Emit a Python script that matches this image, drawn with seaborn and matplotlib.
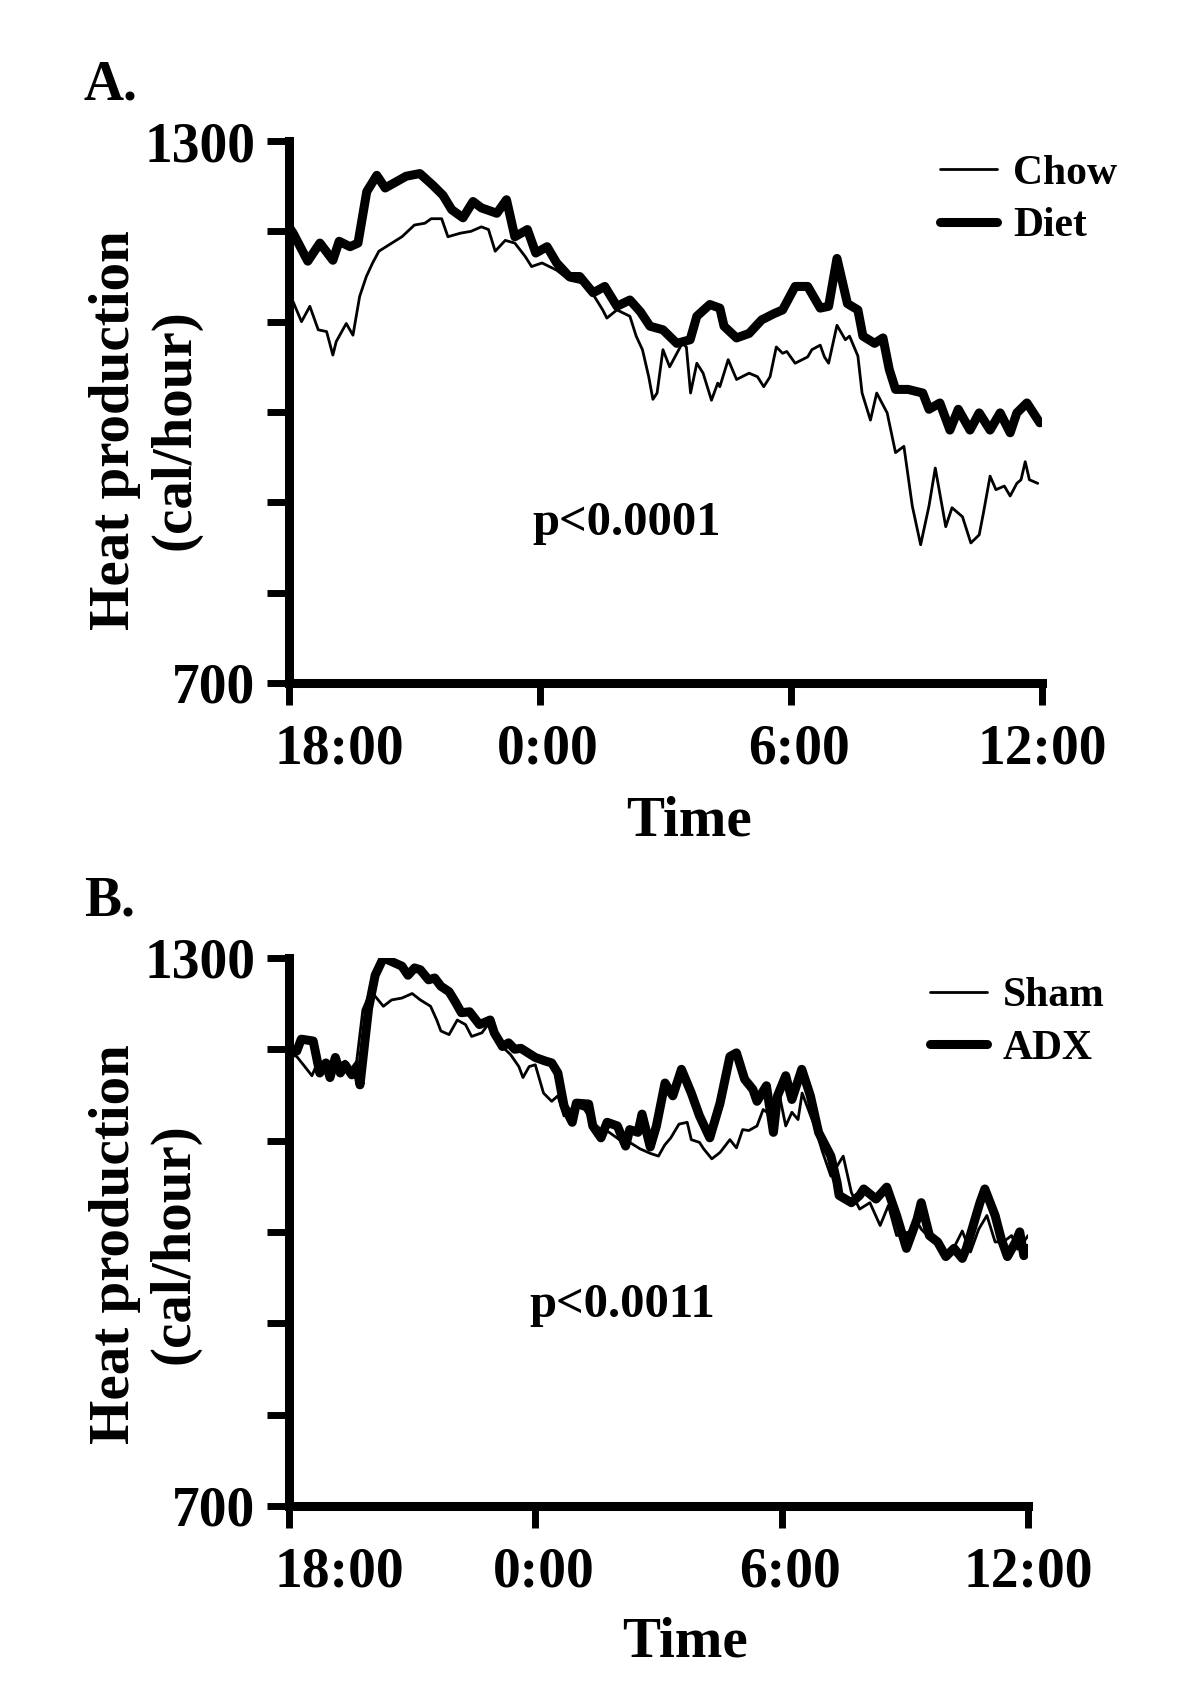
import matplotlib
matplotlib.use("Agg")
import matplotlib.pyplot as plt
import matplotlib.transforms as mtransforms
import seaborn as sns

# Panel A: hours after 18:00 and heat production (cal/hour)
chow_t = [0, 0.1, 0.3, 0.5, 0.7, 0.9, 1.05, 1.13, 1.37, 1.53,
          1.69, 1.85, 2.0, 2.15, 2.39, 2.7, 3.0, 3.25, 3.4, 3.65,
          3.8, 4.1, 4.35, 4.6, 4.77, 4.93, 5.17, 5.4, 5.65, 5.8,
          6.05, 6.4, 6.7, 7.0, 7.3, 7.5, 7.6, 7.84, 8.15, 8.3,
          8.45, 8.6, 8.7, 8.8, 8.94, 9.1, 9.4, 9.5, 9.6, 9.75,
          9.9, 10.1, 10.25, 10.3, 10.5, 10.7, 11.0, 11.2, 11.35, 11.5,
          11.65, 11.8, 11.9, 12.1, 12.4, 12.5, 12.7, 12.8, 12.9, 13.1,
          13.3, 13.4, 13.6, 13.7, 13.9, 14.05, 14.3, 14.5, 14.7, 14.9,
          15.1, 15.3, 15.45, 15.7, 15.85, 16.1, 16.3, 16.5, 16.6, 16.76,
          16.9, 17.1, 17.24, 17.4, 17.5, 17.6, 17.7, 17.9]
chow_v = [1125, 1122, 1100, 1117, 1091, 1089, 1063, 1078, 1098, 1085,
          1128, 1150, 1165, 1178, 1185, 1194, 1207, 1209, 1214, 1214,
          1194, 1198, 1200, 1205, 1202, 1178, 1190, 1187, 1172, 1161,
          1165, 1157, 1146, 1143, 1128, 1113, 1104, 1113, 1106, 1084,
          1069, 1039, 1014, 1021, 1069, 1050, 1076, 1072, 1021, 1054,
          1043, 1013, 1032, 1028, 1058, 1036, 1043, 1039, 1028, 1039,
          1072, 1065, 1067, 1054, 1061, 1069, 1074, 1061, 1054, 1096,
          1080, 1084, 1062, 1021, 991, 1021, 999, 955, 962, 896,
          853, 896, 938, 873, 894, 884, 855, 864, 888, 929,
          914, 918, 907, 921, 925, 945, 925, 921]
diet_t = [0, 0.1, 0.45, 0.74, 1.05, 1.2, 1.46, 1.65, 1.86, 2.1,
          2.3, 2.57, 2.8, 3.13, 3.44, 3.68, 3.89, 4.16, 4.4, 4.6,
          4.97, 5.2, 5.4, 5.7, 5.9, 6.17, 6.4, 6.7, 6.95, 7.27,
          7.55, 7.84, 8.15, 8.4, 8.63, 8.94, 9.27, 9.59, 9.75, 10.06,
          10.3, 10.4, 10.7, 11.0, 11.3, 11.6, 11.8, 12.1, 12.4, 12.7,
          12.9, 13.1, 13.35, 13.6, 13.72, 14.0, 14.2, 14.35, 14.5, 14.8,
          15.15, 15.3, 15.56, 15.8, 16.0, 16.28, 16.5, 16.76, 17.0, 17.24,
          17.4, 17.64, 17.95]
diet_v = [1205, 1198, 1167, 1187, 1168, 1189, 1183, 1187, 1244, 1262,
          1248, 1255, 1261, 1264, 1251, 1240, 1224, 1215, 1233, 1226,
          1220, 1235, 1194, 1202, 1176, 1183, 1165, 1150, 1150, 1132,
          1139, 1117, 1124, 1111, 1095, 1091, 1076, 1080, 1106, 1119,
          1115, 1095, 1082, 1087, 1102, 1109, 1113, 1139, 1139, 1115,
          1117, 1170, 1120, 1113, 1084, 1076, 1082, 1047, 1025, 1025,
          1021, 1003, 1010, 980, 1003, 980, 999, 980, 999, 977,
          999, 1010, 988]

# Panel B
sham_t = [0, 0.19, 0.35, 0.56, 0.73, 0.9, 1.13, 1.37, 1.53, 1.65,
          1.8, 1.94, 2.1, 2.3, 2.5, 2.75, 3.0, 3.2, 3.45, 3.6,
          3.7, 3.9, 4.1, 4.3, 4.45, 4.7, 4.9, 5.1, 5.4, 5.6,
          5.7, 5.85, 6.0, 6.2, 6.4, 6.55, 6.7, 6.95, 7.2, 7.4,
          7.6, 7.8, 8.05, 8.3, 8.55, 8.8, 9.0, 9.15, 9.3, 9.5,
          9.7, 9.8, 10.0, 10.1, 10.3, 10.5, 10.74, 10.9, 11.05, 11.2,
          11.4, 11.55, 11.7, 11.95, 12.1, 12.25, 12.4, 12.5, 12.8, 13.0,
          13.2, 13.5, 13.7, 13.9, 14.15, 14.4, 14.6, 14.8, 15.1, 15.3,
          15.4, 15.7, 15.9, 16.1, 16.4, 16.6, 16.8, 17.0, 17.2, 17.4,
          17.6, 17.75, 17.9, 18.0]
sham_v = [1195, 1192, 1183, 1171, 1189, 1174, 1181, 1187, 1178, 1187,
          1243, 1258, 1258, 1247, 1254, 1256, 1261, 1254, 1247, 1232,
          1220, 1216, 1232, 1227, 1214, 1218, 1230, 1207, 1194, 1181,
          1169, 1181, 1183, 1152, 1143, 1149, 1127, 1138, 1134, 1120,
          1112, 1109, 1101, 1098, 1091, 1086, 1083, 1095, 1103, 1118,
          1120, 1101, 1098, 1091, 1080, 1087, 1101, 1092, 1112, 1111,
          1116, 1134, 1129, 1149, 1116, 1131, 1123, 1152, 1116, 1087,
          1061, 1083, 1043, 1025, 1032, 1007, 1029, 996, 1000, 1011,
          1003, 989, 983, 974, 1001, 978, 1003, 1018, 989, 989,
          996, 981, 989, 996]
adx_t = [0, 0.19, 0.3, 0.59, 0.75, 0.9, 1.0, 1.13, 1.25, 1.37,
         1.53, 1.65, 1.73, 1.94, 2.1, 2.3, 2.5, 2.75, 2.9, 3.06,
         3.2, 3.4, 3.55, 3.7, 3.9, 4.05, 4.2, 4.4, 4.64, 4.9,
         5.0, 5.2, 5.35, 5.5, 5.65, 6.0, 6.25, 6.4, 6.55, 6.7,
         6.9, 7.0, 7.3, 7.4, 7.6, 7.75, 8.0, 8.2, 8.3, 8.5,
         8.6, 8.8, 8.95, 9.16, 9.35, 9.56, 9.8, 10.0, 10.25, 10.5,
         10.74, 10.9, 11.1, 11.3, 11.4, 11.63, 11.8, 11.9, 12.1, 12.25,
         12.49, 12.7, 12.9, 13.2, 13.35, 13.4, 13.7, 13.9, 14.0, 14.3,
         14.56, 14.8, 15.04, 15.3, 15.4, 15.6, 15.8, 16.0, 16.2, 16.4,
         16.5, 16.83, 16.95, 17.2, 17.35, 17.5, 17.7, 17.8, 17.9, 18.0]
adx_v = [1200, 1198, 1211, 1209, 1174, 1185, 1169, 1191, 1174, 1183,
         1172, 1181, 1161, 1245, 1281, 1300, 1296, 1291, 1281, 1289,
         1287, 1276, 1278, 1269, 1263, 1252, 1240, 1241, 1227, 1232,
         1218, 1203, 1207, 1200, 1201, 1191, 1187, 1185, 1174, 1138,
         1120, 1141, 1140, 1116, 1103, 1120, 1116, 1094, 1112, 1109,
         1129, 1093, 1116, 1163, 1149, 1178, 1152, 1127, 1103, 1141,
         1192, 1196, 1167, 1156, 1143, 1160, 1109, 1149, 1171, 1145,
         1178, 1149, 1109, 1083, 1054, 1040, 1032, 1040, 1047, 1036,
         1049, 1018, 982, 1014, 1032, 996, 989, 973, 982, 971,
         982, 1032, 1047, 1018, 992, 973, 989, 1000, 974, 982]

hour_ticks = [0, 6, 12, 18]
hour_labels = ["18:00", "0:00", "6:00", "12:00"]
y_ticks = [700, 800, 900, 1000, 1100, 1200, 1300]
y_labels = ["700", "", "", "", "", "", "1300"]

sns.set_theme(style="ticks")
plt.rcParams["font.family"] = ["Liberation Serif", "DejaVu Serif"]
plt.rcParams["font.weight"] = "bold"
for key in ["text.color", "axes.labelcolor", "xtick.color", "ytick.color", "axes.edgecolor"]:
    plt.rcParams[key] = "black"

fig = plt.figure(figsize=(11.96, 16.93), dpi=100)

panels = [
    dict(rect=[0.2416, 0.5966, 0.6296, 0.3201], letter="A.", letter_y=1 - 86 / 1693,
         series=[(chow_t, chow_v, "Chow", 2.0), (diet_t, diet_v, "Diet", 6.5)],
         ptext="p<0.0001", pxy=(8.08, 864), legend_xy=(0.8645, 0.975),
         xlabel_xy=(0.531, -0.255), ylabel_xy=(-0.191, 0.467)),
    dict(rect=[0.2416, 0.1105, 0.6179, 0.3237], letter="B.", letter_y=1 - 901 / 1693,
         series=[(sham_t, sham_v, "Sham", 2.0), (adx_t, adx_v, "ADX", 6.5)],
         ptext="p<0.0011", pxy=(8.13, 907), legend_xy=(0.867, 0.965),
         xlabel_xy=(0.536, -0.250), ylabel_xy=(-0.195, 0.478)),
]

label_dx = [50, 8, 8, 0]  # px shifts of the time labels

for p in panels:
    ax = fig.add_axes(p["rect"])
    for t, v, name, lw in p["series"]:
        sns.lineplot(x=t, y=v, ax=ax, color="black", linewidth=lw, label=name)
    ax.set_xlim(0, 18)
    ax.set_ylim(700, 1300)
    sns.despine(ax=ax)
    for side in ["left", "bottom"]:
        ax.spines[side].set_linewidth(6.5)
        ax.spines[side].set_color("black")
    ax.set_xticks(hour_ticks)
    ax.set_xticklabels(hour_labels, fontsize=40, fontweight="bold")
    ax.set_yticks(y_ticks)
    ax.set_yticklabels(y_labels, fontsize=40, fontweight="bold")
    ax.tick_params(direction="out", length=16, width=5, color="black")
    ax.tick_params(axis="x", pad=13)
    ax.tick_params(axis="y", pad=8)
    for lab, dx in zip(ax.get_xticklabels(), label_dx):
        lab.set_transform(lab.get_transform() +
                          mtransforms.ScaledTranslation(dx / 100, 0, fig.dpi_scale_trans))

    ax.set_xlabel("Time", fontsize=41, fontweight="bold", va="center")
    ax.xaxis.set_label_coords(*p["xlabel_xy"])
    ax.set_ylabel("Heat production\n(cal/hour)", fontsize=41, fontweight="bold",
                  va="center", ha="center", linespacing=1.2)
    ax.yaxis.set_label_coords(*p["ylabel_xy"])

    ax.text(p["pxy"][0], p["pxy"][1], p["ptext"], ha="center", va="baseline",
            fontsize=35, fontweight="bold")
    ax.legend(loc="upper left", bbox_to_anchor=p["legend_xy"], frameon=False,
              prop={"size": 30, "weight": "bold"}, handlelength=1.37,
              handletextpad=0.38, borderpad=0, borderaxespad=0, labelspacing=0.35)

    fig.text(84 / 1196, p["letter_y"], p["letter"], ha="left", va="center",
             fontsize=40, fontweight="bold")

fig.savefig("out.png", dpi=100)
